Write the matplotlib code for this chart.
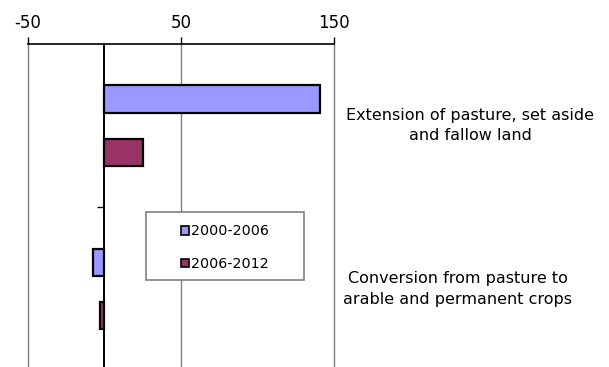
import matplotlib

matplotlib.use('Agg')
import matplotlib.pyplot as plt
from matplotlib.patches import Patch, Rectangle

# change in area, two periods
categories = ['Extension of pasture, set aside\nand fallow land',
              'Conversion from pasture to\narable and permanent crops']
periods = ['2000-2006', '2006-2012']
values_2000_2006 = [141, -7]
values_2006_2012 = [25.5, -3]
colors = ['#9999ff', '#993366']

plt.rcParams['font.family'] = ['DejaVu Sans']
plt.rcParams['axes.unicode_minus'] = False

fig = plt.figure(figsize=(6.09, 3.67), dpi=100)
ax = fig.add_axes([27.5 / 609, -0.01, 306.5 / 609, 1 - 44 / 367 + 0.01])

ypos = range(len(categories))
h = 0.167
off = 0.164
ax.barh([y - off for y in ypos], values_2000_2006, height=h, color=colors[0],
        edgecolor='black', linewidth=1.6, zorder=3)
ax.barh([y + off for y in ypos], values_2006_2012, height=h, color=colors[1],
        edgecolor='black', linewidth=1.6, zorder=3)

ax.set_xlim(-50, 150)
ax.set_ylim(len(categories) - 0.5, -0.5)

# value axis on top
ax.xaxis.tick_top()
ax.set_xticks([-50, 50, 150])
ax.tick_params(axis='x', direction='out', length=5, width=1, pad=4,
               labelsize=12, colors='black')
ax.grid(True, axis='x', color='#808080', linewidth=1, zorder=0)
for gl in ax.get_xgridlines():
    gl.set_clip_on(False)

# category axis sits at zero
for side in ('right', 'bottom'):
    ax.spines[side].set_visible(False)
ax.spines['top'].set_linewidth(1.2)
ax.spines['left'].set_position(('data', 0))
ax.spines['left'].set_linewidth(1.4)
ax.spines['left'].set_zorder(4)
ax.set_yticks([0.5])
ax.set_yticklabels([])
ax.tick_params(axis='y', direction='out', length=5, width=1)

# category names sit to the right of the plot
for y, label, xl in zip(ypos, categories, [1.444, 1.403]):
    ax.text(xl, y, label, transform=ax.get_yaxis_transform(), ha='center',
            va='center', fontsize=11.5, clip_on=False, linespacing=1.45)

# legend with its own grey frame
fig.patches.append(Rectangle((146 / 609, 1 - 280 / 367), 158 / 609, 68 / 367,
                             transform=fig.transFigure, facecolor='white',
                             edgecolor='#808080', linewidth=1.2, zorder=5))
handles = [Patch(facecolor=c, edgecolor='black', linewidth=1.2) for c in colors]
fig.legend(handles, periods, loc='upper left',
           bbox_to_anchor=(170 / 609, 1 - 213 / 367), frameon=False,
           fontsize=10.3, handlelength=0.55, handleheight=0.55,
           handletextpad=0.12, labelspacing=1.3, borderpad=0.3)

fig.savefig('out.png', dpi=100)
